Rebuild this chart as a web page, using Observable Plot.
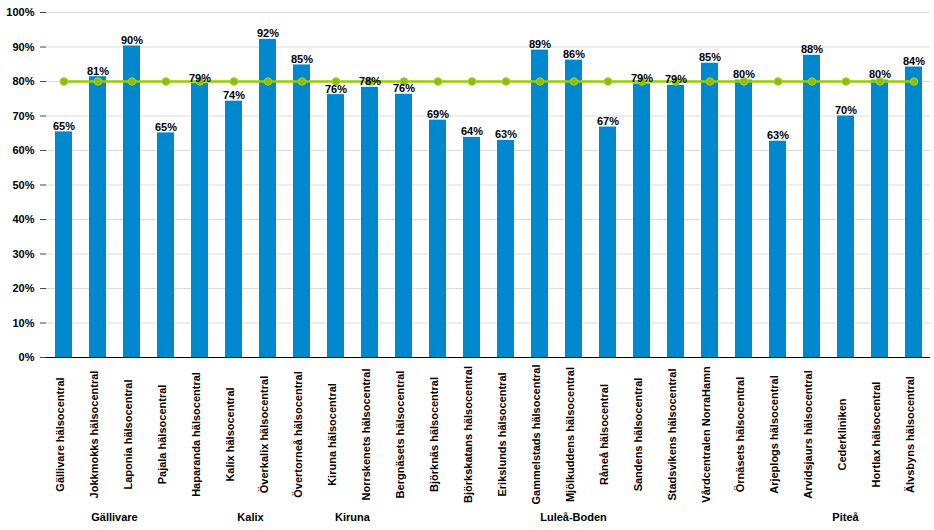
<!DOCTYPE html>
<html>
<head>
<meta charset="utf-8">
<script src="https://cdn.jsdelivr.net/npm/d3@7"></script>
<script src="https://cdn.jsdelivr.net/npm/@observablehq/plot@0.6"></script>
<style>
  html, body { margin: 0; padding: 0; background: #fff; }
  #chart svg { display: block; }
</style>
</head>
<body>
<div id="chart"></div>
<script>
const names = [
  "Gällivare hälsocentral", "Jokkmokks hälsocentral", "Laponia hälsocentral", "Pajala hälsocentral",
  "Haparanda hälsocentral", "Kalix hälsocentral", "Överkalix hälsocentral", "Övertorneå hälsocentral",
  "Kiruna hälsocentral", "Norrskenets hälsocentral",
  "Bergnäsets hälsocentral", "Björknäs hälsocentral", "Björkskatans hälsocentral", "Erikslunds hälsocentral",
  "Gammelstads hälsocentral", "Mjölkuddens hälsocentral", "Råneå hälsocentral", "Sandens hälsocentral",
  "Stadsvikens hälsocentral", "Vårdcentralen NorraHamn", "Örnäsets hälsocentral",
  "Arjeplogs hälsocentral", "Arvidsjaurs hälsocentral", "Cederkliniken", "Hortlax hälsocentral", "Älvsbyns hälsocentral"
];
const values = [
  0.654, 0.814, 0.903, 0.651,
  0.794, 0.743, 0.922, 0.848,
  0.762, 0.783,
  0.763, 0.688, 0.638, 0.629,
  0.891, 0.862, 0.668, 0.793,
  0.789, 0.853, 0.804,
  0.627, 0.876, 0.700, 0.804, 0.842
];
const target = [
  0.8, 0.8, 0.8, 0.8, 0.8, 0.8, 0.8, 0.8, 0.8, 0.8, 0.8, 0.8, 0.8,
  0.8, 0.8, 0.8, 0.8, 0.8, 0.8, 0.8, 0.8, 0.8, 0.8, 0.8, 0.8, 0.8
];
const yTicks = [0, 0.1, 0.2, 0.3, 0.4, 0.5, 0.6, 0.7, 0.8, 0.9, 1.0];
const groupNames = ["Gällivare", "Kalix", "Kiruna", "Luleå-Boden", "Piteå"];
const groupFirst = ["Gällivare hälsocentral", "Haparanda hälsocentral", "Kiruna hälsocentral", "Bergnäsets hälsocentral", "Arjeplogs hälsocentral"];
const groupLast = ["Pajala hälsocentral", "Övertorneå hälsocentral", "Norrskenets hälsocentral", "Örnäsets hälsocentral", "Älvsbyns hälsocentral"];

const rows = names.map((n, i) => ({name: n, value: values[i], target: target[i]}));
const groups = groupNames.map((g, i) => ({name: g, first: groupFirst[i], last: groupLast[i]}));

const FONT = "'Liberation Sans', Arial, sans-serif";
const pct = d3.format(".0%");

function groupLabels(index, scales, values, dimensions) {
  const x = scales.x;
  const bw = typeof x.bandwidth === "function" ? x.bandwidth() : 0;
  const yPos = dimensions.height - dimensions.marginBottom + 164;
  const g = d3.create("svg:g")
    .attr("font-family", FONT)
    .attr("font-size", 11)
    .attr("font-weight", "bold")
    .attr("fill", "#000")
    .attr("text-anchor", "middle");
  g.selectAll("text").data(groups).join("text")
    .attr("x", d => (x(d.first) + x(d.last)) / 2 + bw / 2)
    .attr("y", yPos)
    .text(d => d.name);
  return g.node();
}

const chart = Plot.plot({
  width: 934,
  height: 530,
  marginTop: 12,
  marginBottom: 173,
  marginLeft: 46,
  marginRight: 4,
  style: {fontFamily: FONT, fontSize: "11px", background: "#fff"},
  x: {type: "band", domain: names, paddingInner: 0.5, paddingOuter: 0.25, axis: null},
  y: {domain: [0, 1], ticks: yTicks, tickFormat: pct, label: null, grid: false},
  marks: [
    Plot.gridY(yTicks, {stroke: "#dcdcdc", strokeOpacity: 1, strokeWidth: 1}),
    Plot.axisY(yTicks, {tickFormat: pct, tickSize: 6, tickPadding: 6, fontWeight: "bold", fontSize: 11, label: null, stroke: "#444"}),
    Plot.barY(rows, {x: "name", y: "value", fill: "#0088cf"}),
    Plot.ruleY([0], {stroke: "#000", strokeWidth: 1.2}),
    Plot.line(rows, {x: "name", y: "target", stroke: "#99cc00", strokeWidth: 2.5}),
    Plot.dot(rows, {x: "name", y: "target", r: 3.8, fill: "#8dbb1c", stroke: "#a4d11a", strokeWidth: 1}),
    Plot.text(rows, {x: "name", y: "value", text: d => pct(d.value), lineAnchor: "bottom", dy: -2,
      fontWeight: "bold", fontSize: 11, fill: "#000"}),
    Plot.text(rows, {x: "name", text: "name", frameAnchor: "bottom", rotate: -90, textAnchor: "middle",
      dy: 77, fontWeight: "bold", fontSize: 11, fill: "#000"}),
    groupLabels
  ]
});
document.getElementById("chart").appendChild(chart);
</script>
</body>
</html>
